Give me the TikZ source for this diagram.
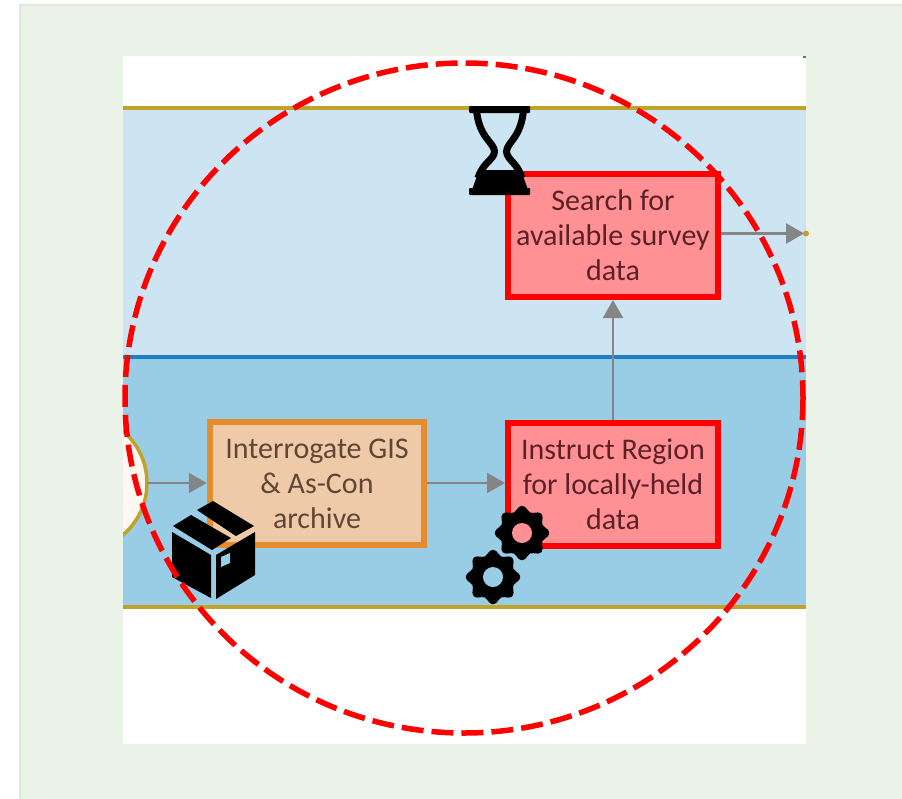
\documentclass[tikz,border=0pt]{standalone}
\usepackage{fontspec}
\setmainfont{Carlito}
\usetikzlibrary{arrows.meta}
\definecolor{pagebg}{HTML}{EBF2E7}
\definecolor{pageedge}{HTML}{DFEAD8}
\definecolor{laneA}{HTML}{CDE4F2}
\definecolor{laneB}{HTML}{99CDE6}
\definecolor{gold}{HTML}{C2A32A}
\definecolor{midline}{HTML}{1F7FC4}
\definecolor{redfill}{HTML}{FF9194}
\definecolor{orfill}{HTML}{EFCAA8}
\definecolor{oredge}{HTML}{E58C2C}
\definecolor{txtred}{HTML}{5E2028}
\definecolor{txtor}{HTML}{604636}
\definecolor{arrowgray}{HTML}{858585}
\definecolor{startfill}{HTML}{FFF8F0}
\definecolor{speck}{HTML}{1FA060}
\tikzset{
 x=1pt,y=-1pt,
 redbox/.style={draw=red,line width=6pt,fill=redfill,text=txtred,align=center,font=\fontsize{30}{35}\selectfont,minimum width=210pt,minimum height=123pt,inner sep=0pt},
 orbox/.style={draw=oredge,line width=6.5pt,fill=orfill,text=txtor,align=center,font=\fontsize{30}{35}\selectfont,minimum width=214pt,minimum height=123pt,inner sep=0pt},
 flow/.style={draw=arrowgray,line width=2.4pt,-{Triangle[length=18pt,width=20pt]}},
 goldrule/.style={draw=gold,line width=4pt}
}
\begin{document}
\begin{tikzpicture}
\useasboundingbox (0,0) rectangle (902,798);
\fill[white] (0,0) rectangle (902,798);
\fill[pagebg,draw=pageedge,line width=2pt] (20,5) rectangle (910,805);
\fill[white] (123,56) rectangle (806,744);
\fill[speck] (803,56) rectangle (806,58);
\fill[laneA] (123,108) rectangle (806,357);
\fill[laneB] (123,357) rectangle (806,607);
\draw[goldrule] (123,108) -- (806,108);
\draw[goldrule] (123,607) -- (806,607);
\draw[midline,line width=3.5pt] (123,357) -- (806,357);
% start event
\begin{scope}
\clip (123,420) rectangle (160,545);
\node[circle,draw=gold,line width=3.5pt,fill=startfill,minimum size=136pt,inner sep=0pt] (startev) at (79,483) {};
\end{scope}
\coordinate (startedge) at (147,483);
\node[orbox] (archive) at (317,483.5) {Interrogate GIS\\\& As-Con\\archive};
\node[redbox] (instruct) at (613,484) {Instruct Region\\for locally-held\\data};
\node[redbox] (search) at (613,235.5) {Search for\\available survey\\data};
\coordinate (exitpt) at (804,233.5);
\fill[gold] (806,233.5) circle (3pt);
\draw[flow] (startedge) -- (archive.west |- startedge);
\draw[flow] (archive.east |- startedge) -- (instruct.west |- startedge);
\draw[flow] (instruct.north) -- (search.south);
\draw[flow] (search.east |- exitpt) -- (exitpt);
% hourglass
\begin{scope}[line join=round]
\fill[black,rounded corners=1pt] (469,106) rectangle (530,113);
\fill[black,rounded corners=1pt] (469,188) rectangle (530,195);
\draw[black,line width=7pt] (476.5,110) .. controls (479,138) and (494,142) .. (494.5,151.5) .. controls (494,160) and (483,162) .. (478,178);
\draw[black,line width=7pt] (523.5,110) .. controls (521,138) and (507,142) .. (506.5,151.5) .. controls (507,160) and (517,162) .. (522,178);
\fill[black] (479,170) -- (521,170) -- (528,190) -- (472,190) -- cycle;
\end{scope}
% box icon
\begin{scope}[line join=round]
\fill[black] (172,532) -- (211,555) -- (211,598) -- (172,577) -- cycle;
\fill[black] (216,555) -- (255,532) -- (255,575) -- (216,599) -- cycle;
\fill[black] (173,526) -- (191,515) -- (231,538) -- (212,550) -- cycle;
\fill[black] (197,510) -- (213,501) -- (254,526) -- (236,536) -- cycle;
\fill[laneB] (221,557) -- (230,553) -- (230,563) -- (221,567) -- cycle;
\end{scope}
% gears
\foreach \cx/\cy/\holec in {522/533/redfill,493/577/laneB}{
 \fill[black,shift={(\cx,\cy)}] plot[smooth cycle,samples=48,domain=0:352.5] (\x:{24.6+2.6*cos(8*\x)});
 \fill[\holec] (\cx,\cy) circle (10pt);
}
% dashed circle
\draw[red,line width=5.5pt,dash pattern=on 22pt off 8pt] (464,398) circle [x radius=339,y radius=335];
\end{tikzpicture}
\end{document}
